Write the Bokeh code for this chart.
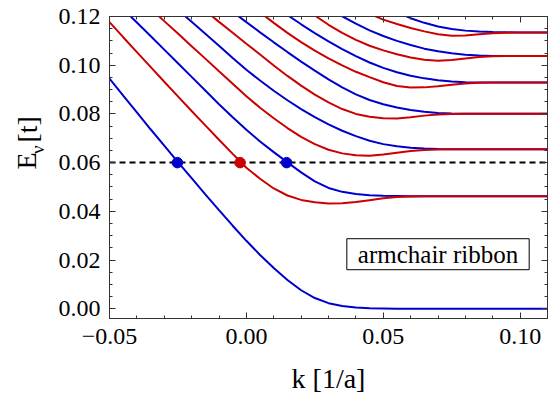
import numpy as np
from bokeh.plotting import figure
from bokeh.layouts import row
from bokeh.models import Range1d, LinearAxis, FixedTicker, CustomJSTickFormatter, Label
from bokeh.core.properties import value
from bokeh.embed import file_html
from bokeh.resources import INLINE

NA = None

# wave number sampling grid (1/a)
K = [-0.050, -0.045, -0.040, -0.035, -0.030, -0.025, -0.020, -0.015, -0.010, -0.005,
     0.000, 0.005, 0.010, 0.015, 0.020, 0.025, 0.030, 0.035, 0.040, 0.045,
     0.050, 0.055, 0.060, 0.065, 0.070, 0.075, 0.080, 0.085, 0.090, 0.095,
     0.100, 0.105, 0.110]

# band energies E_nu(k) in units of t; blue and red branches
B1 = [0.0945, 0.0875, 0.0806, 0.0737, 0.0670, 0.0602, 0.0536, 0.0470, 0.0405, 0.0341,
      0.0279, 0.0221, 0.0167, 0.0118, 0.0076, 0.0044, 0.0023, 0.0011, 0.0005, 0.0002,
      0.0001, 0.0, 0.0, 0.0, 0.0, 0.0, 0.0, 0.0, 0.0, 0.0, 0.0, 0.0, 0.0]
R1 = [0.1177, 0.1115, 0.1054, 0.0993, 0.0932, 0.0872, 0.0812, 0.0753, 0.0694, 0.0636,
      0.0579, 0.0534, 0.0494, 0.0465, 0.0447, 0.0437, 0.0432, 0.0433, 0.0438, 0.0446,
      0.0454, 0.0459, 0.0461, 0.0462, 0.0462, 0.0462, 0.0462, 0.0462, 0.0462, 0.0462,
      0.0462, 0.0462, 0.0462]
B2 = [NA, 0.1230, 0.1175, 0.1120, 0.1064, 0.1008, 0.0952, 0.0896, 0.0840, 0.0786,
      0.0735, 0.0687, 0.0643, 0.0601, 0.0560, 0.0523, 0.0496, 0.0480, 0.0471, 0.0466,
      0.0464, 0.0463, 0.0462, 0.0462, 0.0462, 0.0462, 0.0462, 0.0462, 0.0462, 0.0462,
      0.0462, 0.0462, 0.0462]
R2 = [NA, NA, 0.1282, 0.1232, 0.1181, 0.1130, 0.1078, 0.1027, 0.0975, 0.0924,
      0.0873, 0.0825, 0.0782, 0.0742, 0.0706, 0.0676, 0.0653, 0.0638, 0.0630, 0.0628,
      0.0633, 0.0641, 0.0648, 0.0652, 0.0654, 0.0655, 0.0655, 0.0655, 0.0655, 0.0655,
      0.0655, 0.0655, 0.0655]
B3 = [NA, NA, NA, NA, NA, 0.1227, 0.1178, 0.1129, 0.1080, 0.1030,
      0.0981, 0.0937, 0.0895, 0.0856, 0.0820, 0.0787, 0.0757, 0.0731, 0.0709, 0.0690,
      0.0676, 0.0667, 0.0661, 0.0658, 0.0656, 0.0655, 0.0655, 0.0655, 0.0655, 0.0655,
      0.0655, 0.0655, 0.0655]
R3 = [NA, NA, NA, NA, NA, NA, NA, 0.1224, 0.1178, 0.1133,
      0.1088, 0.1044, 0.0999, 0.0956, 0.0916, 0.0879, 0.0847, 0.0820, 0.0800, 0.0788,
      0.0782, 0.0781, 0.0786, 0.0793, 0.0798, 0.0800, 0.0801, 0.0801, 0.0801, 0.0801,
      0.0801, 0.0801, 0.0801]
B4 = [NA, NA, NA, NA, NA, NA, NA, NA, NA, 0.1219,
      0.1177, 0.1135, 0.1094, 0.1054, 0.1015, 0.0978, 0.0942, 0.0909, 0.0880, 0.0857,
      0.0840, 0.0826, 0.0816, 0.0809, 0.0804, 0.0802, 0.0801, 0.0801, 0.0801, 0.0801,
      0.0801, 0.0801, 0.0801]
R4 = [NA, NA, NA, NA, NA, NA, NA, NA, NA, NA,
      NA, 0.1217, 0.1174, 0.1133, 0.1095, 0.1060, 0.1028, 0.0999, 0.0973, 0.0951,
      0.0930, 0.0915, 0.0908, 0.0909, 0.0914, 0.0920, 0.0925, 0.0928, 0.0929, 0.0929,
      0.0929, 0.0929, 0.0929]
B5 = [NA, NA, NA, NA, NA, NA, NA, NA, NA, NA,
      NA, NA, NA, 0.1206, 0.1168, 0.1132, 0.1098, 0.1066, 0.1037, 0.1011,
      0.0989, 0.0971, 0.0957, 0.0946, 0.0938, 0.0933, 0.0930, 0.0929, 0.0929, 0.0929,
      0.0929, 0.0929, 0.0929]
R5 = [NA, NA, NA, NA, NA, NA, NA, NA, NA, NA,
      NA, NA, NA, NA, NA, 0.1204, 0.1166, 0.1133, 0.1104, 0.1080,
      0.1061, 0.1045, 0.1032, 0.1022, 0.1018, 0.1021, 0.1028, 0.1034, 0.1037, 0.1038,
      0.1038, 0.1038, 0.1038]
B6 = [NA, NA, NA, NA, NA, NA, NA, NA, NA, NA,
      NA, NA, NA, NA, NA, NA, 0.1232, 0.1201, 0.1171, 0.1143,
      0.1120, 0.1100, 0.1083, 0.1068, 0.1057, 0.1049, 0.1043, 0.1040, 0.1038, 0.1038,
      0.1038, 0.1038, 0.1038]
R6 = [NA, NA, NA, NA, NA, NA, NA, NA, NA, NA,
      NA, NA, NA, NA, NA, NA, NA, NA, 0.1240, 0.1211,
      0.1187, 0.1169, 0.1153, 0.1139, 0.1127, 0.1121, 0.1122, 0.1127, 0.1131, 0.1133,
      0.1134, 0.1134, 0.1134]
B7 = [NA, NA, NA, NA, NA, NA, NA, NA, NA, NA,
      NA, NA, NA, NA, NA, NA, NA, NA, NA, NA,
      NA, 0.1218, 0.1193, 0.1174, 0.1159, 0.1149, 0.1142, 0.1138, 0.1136, 0.1135,
      0.1134, 0.1134, 0.1134]

BLUE_BANDS = [B1, B2, B3, B4, B5, B6, B7]
RED_BANDS = [R1, R2, R3, R4, R5, R6]

# Fermi level and the states crossing it
E_F = 0.06
DOT_K = [-0.0252, -0.0023, 0.0147]
DOT_E = [0.06, 0.06, 0.06]
DOT_COLORS = ["#0000cc", "#cc0000", "#0000cc"]

# ticks
X_MAJOR = [-0.05, 0.0, 0.05, 0.10]
X_MINOR = [-0.04, -0.03, -0.02, -0.01, 0.01, 0.02, 0.03, 0.04, 0.06, 0.07, 0.08, 0.09, 0.11]
Y_MAJOR = [0.0, 0.02, 0.04, 0.06, 0.08, 0.10, 0.12]
Y_MINOR = [0.005, 0.01, 0.015, 0.025, 0.03, 0.035, 0.045, 0.05, 0.055, 0.065, 0.07, 0.075,
           0.085, 0.09, 0.095, 0.105, 0.11, 0.115]

# y-axis title pieces: E with subscript nu, then the unit
YTITLE_TEXT = ["E", "\u03bd", "[t]"]
YTITLE_SIZE = ["28px", "19px", "28px"]

BLUE = "#0000cc"
RED = "#cc0000"
FRAME = "#333333"
SERIF = "Liberation Serif"
TITLE_W = 50
H = 399

p = figure(width=555 - TITLE_W, height=H,
           x_range=Range1d(-0.05, 0.11), y_range=Range1d(-0.004, 0.12),
           output_backend="svg", toolbar_location=None,
           min_border_left=109 - TITLE_W, min_border_right=8,
           min_border_top=16, min_border_bottom=81)
p.xgrid.grid_line_color = None
p.ygrid.grid_line_color = None
p.outline_line_color = FRAME
p.background_fill_color = "white"
p.border_fill_color = "white"

label_fmt = CustomJSTickFormatter(code="return (tick < -1e-9 ? '\\u2212' : '') + Math.abs(tick).toFixed(2);")
blank_fmt = CustomJSTickFormatter(code="return '';")


def style_axis(ax, ticks, minor):
    ax.ticker = FixedTicker(ticks=ticks, minor_ticks=minor)
    ax.major_tick_in = 6
    ax.major_tick_out = 0
    ax.minor_tick_in = 3
    ax.minor_tick_out = 0
    ax.axis_line_color = FRAME
    ax.major_tick_line_color = FRAME
    ax.minor_tick_line_color = FRAME
    ax.major_label_text_font = SERIF
    ax.major_label_text_font_size = "24px"
    ax.major_label_text_color = "black"


style_axis(p.xaxis[0], X_MAJOR, X_MINOR)
style_axis(p.yaxis[0], Y_MAJOR, Y_MINOR)
p.xaxis.formatter = label_fmt
p.yaxis.formatter = label_fmt
p.xaxis.major_label_standoff = 10
p.yaxis.major_label_standoff = 9
p.xaxis.axis_label = "k [1/a]"
p.xaxis.axis_label_text_font = SERIF
p.xaxis.axis_label_text_font_size = "28px"
p.xaxis.axis_label_text_font_style = "normal"
p.xaxis.axis_label_text_color = "black"
p.xaxis.axis_label_standoff = 16

right = LinearAxis(formatter=blank_fmt, major_label_standoff=0)
style_axis(right, Y_MAJOR, Y_MINOR)
p.add_layout(right, "right")
top = LinearAxis(formatter=blank_fmt, major_label_standoff=0)
style_axis(top, X_MAJOR, X_MINOR)
p.add_layout(top, "above")

kk = np.array(K, dtype=float)
for band in BLUE_BANDS:
    p.line(kk, np.array(band, dtype=float), line_color=BLUE, line_width=2)
for band in RED_BANDS:
    p.line(kk, np.array(band, dtype=float), line_color=RED, line_width=2)

p.hspan(y=[E_F], line_color="black", line_width=2, line_dash="6 4")
p.scatter(DOT_K, DOT_E, size=10.5, fill_color=DOT_COLORS, line_color=DOT_COLORS)

p.add_layout(Label(x=0.07, y=0.0224, text="armchair ribbon",
                   text_align="center", text_baseline="middle",
                   text_font=SERIF, text_font_size="25px", text_color="black",
                   border_line_color="black", border_line_width=1,
                   background_fill_color="white",
                   padding=dict(left=11, right=11, top=2, bottom=2)))

# narrow strip on the left that carries the rotated y-axis title;
# its ranges are plain pixels, measured from the lower-left corner
t = figure(width=TITLE_W, height=H, x_range=Range1d(0, TITLE_W), y_range=Range1d(0, H),
           output_backend="svg", toolbar_location=None,
           x_axis_location=None, y_axis_location=None,
           min_border=0, outline_line_color=None)
t.xgrid.grid_line_color = None
t.ygrid.grid_line_color = None
t.border_fill_color = "white"
t.background_fill_color = "white"
title_x = [26, 37, 27]
title_y = [H - 191, H - 176, H - 149]
for txt, x, y, size in zip(YTITLE_TEXT, title_x, title_y, YTITLE_SIZE):
    t.text(x=[x], y=[y], text=[txt], angle=np.pi / 2,
           text_align="center", text_baseline="middle",
           text_font=value(SERIF), text_font_size=value(size), text_color="black")

layout = row(t, p, spacing=0)
open("out.html", "w").write(file_html(layout, INLINE))
